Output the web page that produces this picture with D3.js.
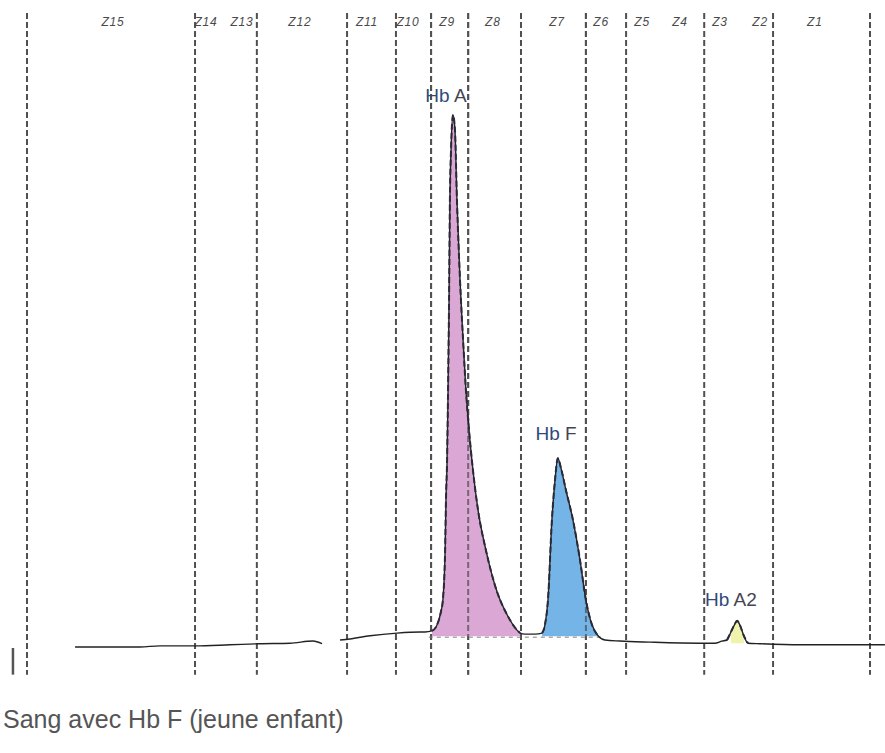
<!DOCTYPE html>
<html><head><meta charset="utf-8">
<script src="https://cdn.jsdelivr.net/npm/d3@7"></script>
<style>body{margin:0;background:#fff}svg{display:block}</style>
</head><body>
<script>
// Zone boundaries (migration units) drawn as dashed lines
const boundaries = [0, 59.8, 81.8, 113.9, 131.3, 143.8, 157.0, 175.8, 198.9, 213.2, 241.0, 265.5, 300];
// Zone labels and their centres
const zoneNames = ["Z15","Z14","Z13","Z12","Z11","Z10","Z9","Z8","Z7","Z6","Z5","Z4","Z3","Z2","Z1"];
const zoneCenters = [30.6, 63.7, 76.5, 97.1, 121.0, 135.6, 149.5, 165.8, 188.6, 204.3, 218.9, 232.4, 246.6, 260.9, 280.4];
// Electrophoregram trace (migration units, % of Hb A peak)
const traceU = [17.1,40.2,47.3,59.8,72.2,82.6,93.6,101.8,105.0,108.0,111.4,114.9,122.1,131.7,139.9,
  141.6,144.1,145.9,147.3,148.0,148.8,149.1,149.5,149.8,150.2,150.5,150.9,151.6,152.3,153.0,154.1,155.2,156.2,157.3,158.7,160.5,163.3,167.3,170.9,173.7,175.5,177.2,180.8,183.3,
  184.3,185.4,186.8,187.9,188.9,190.0,191.8,194.3,196.8,198.9,201.1,203.2,205.7,211.0,221.7,239.5,244.8,247.3,249.1,
  250.5,251.9,252.7,253.7,255.1,256.6,260.9,275.1,305.3];
const traceV = [0.2,0.2,0.4,0.4,0.6,0.8,0.9,1.3,0.8,null,1.5,1.7,2.3,2.8,3.0,
  3.0,3.2,4.3,6.8,9.0,18.4,27.8,35.3,46.5,65.3,84.1,93.4,100,97.2,84.1,69.0,57.7,48.4,40.9,33.4,25.9,18.4,10.5,6.2,3.8,2.8,2.6,2.6,2.8,
  4.3,9.0,24.0,31.5,35.6,33.8,29.6,24.0,16.5,9.0,4.3,2.3,1.5,1.3,1.1,0.9,0.9,1.3,1.5,
  3.0,4.5,5.1,4.3,2.3,0.9,0.8,0.6,0.6];
// Peaks
const peakNames = ["Hb A","Hb F","Hb A2"];
const peakStart = [144.1, 183.3, 250.0];
const peakEnd = [175.5, 203.2, 256.0];
const peakBase = [2.2, 2.2, 0.9];
const peakColors = ["#d9a3d4", "#6db0e6", "#eef2a6"];
const peakLabelU = [149.1, 188.3, 250.5];
const peakLabelV = [102.5, 39.0, 7.8];
const caption = "Sang avec Hb F (jeune enfant)";

const W = 885, H = 753;
const svg = d3.select("body").append("svg").attr("width", W).attr("height", H);
const x = d3.scaleLinear().domain([0, 300]).range([27, 870]);
const y = d3.scaleLinear().domain([0, 100]).range([648, 115]);

const trace = traceU.map((u, i) => ({u, v: traceV[i]}));

// dashed zone boundaries
svg.append("g").selectAll("line").data(boundaries).join("line")
  .attr("x1", d => x(d)).attr("x2", d => x(d))
  .attr("y1", 13).attr("y2", y(-5))
  .attr("stroke", "#505050").attr("stroke-width", 2).attr("stroke-dasharray", "6,3");

// small marker at left
svg.append("line").attr("x1", x(-5)).attr("x2", x(-5)).attr("y1", y(0)).attr("y2", y(-5))
  .attr("stroke", "#555").attr("stroke-width", 2.5);

// zone labels
svg.append("g").selectAll("text").data(zoneNames).join("text")
  .attr("x", (d, i) => x(zoneCenters[i])).attr("y", 26)
  .attr("text-anchor", "middle")
  .attr("font-family", "Liberation Sans, Arial, sans-serif")
  .attr("font-size", 12).attr("font-style", "italic").attr("letter-spacing", 0.8)
  .attr("fill", "#4a4a4a").text(d => d);

// peak fills
peakNames.forEach((name, i) => {
  const pts = trace.filter(p => p.v !== null && p.u >= peakStart[i] && p.u <= peakEnd[i]);
  const area = d3.area().x(p => x(p.u)).y0(y(peakBase[i])).y1(p => y(Math.max(p.v, peakBase[i])))
    .curve(d3.curveMonotoneX);
  svg.append("path").datum(pts).attr("d", area).attr("fill", peakColors[i]).attr("opacity", 0.95);
});

// integration baseline (dashed light)
svg.append("line").attr("x1", x(143)).attr("x2", x(205)).attr("y1", y(2.0)).attr("y2", y(2.0))
  .attr("stroke", "#aaa").attr("stroke-width", 1.5).attr("stroke-dasharray", "4,4");

// boundaries visible through the peaks
svg.append("g").selectAll("line").data(boundaries.filter(b => b > 140 && b < 205)).join("line")
  .attr("x1", d => x(d)).attr("x2", d => x(d))
  .attr("y1", 13).attr("y2", y(-5))
  .attr("stroke", "#505050").attr("stroke-width", 2).attr("stroke-dasharray", "6,3").attr("opacity", 0.7);

// trace line
const line = d3.line().defined(p => p.v !== null).x(p => x(p.u)).y(p => y(p.v)).curve(d3.curveMonotoneX);
svg.append("path").datum(trace).attr("d", line).attr("fill", "none")
  .attr("stroke", "#222").attr("stroke-width", 1.4);

// dashed peak outlines
peakNames.forEach((name, i) => {
  const pts = trace.filter(p => p.v !== null && p.u >= peakStart[i] - 1 && p.u <= peakEnd[i] + 1);
  svg.append("path").datum(pts).attr("d", line).attr("fill", "none")
    .attr("stroke", "#2a2a38").attr("stroke-width", 2).attr("stroke-dasharray", "6,3");
});

// peak labels
peakNames.forEach((name, i) => {
  const t = svg.append("text").attr("x", x(peakLabelU[i])).attr("y", y(peakLabelV[i]))
    .attr("text-anchor", "middle")
    .attr("font-family", "Liberation Sans, Arial, sans-serif").attr("font-size", 19);
  const parts = name.split(" ");
  t.append("tspan").attr("fill", "#2f4a78").text(parts[0] + " ");
  t.append("tspan").attr("fill", "#454552").text(parts.slice(1).join(" "));
});

// caption
svg.append("text").attr("x", 3).attr("y", 728)
  .attr("font-family", "Liberation Sans, Arial, sans-serif").attr("font-size", 25)
  .attr("fill", "#555").text(caption);
</script>
</body></html>
